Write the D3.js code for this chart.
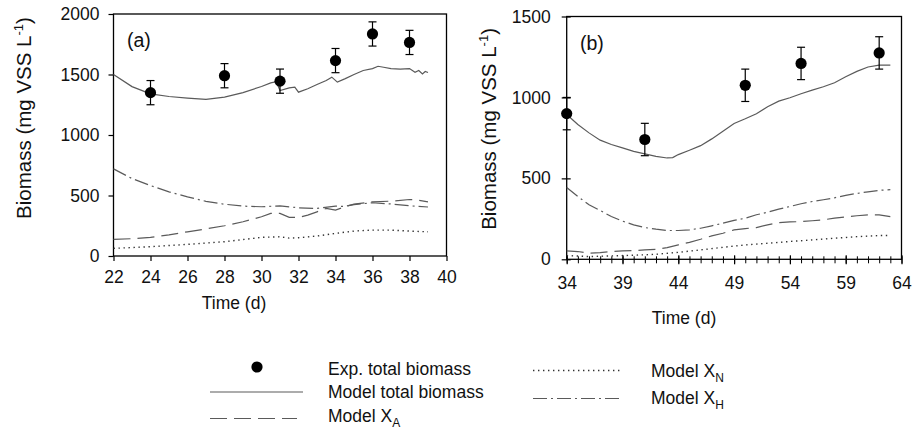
<!DOCTYPE html>
<html>
<head>
<meta charset="utf-8">
<script src="https://cdn.jsdelivr.net/npm/d3@7/dist/d3.min.js"></script>
<style>
  html, body { margin: 0; padding: 0; background: #fff; }
  svg { display: block; font-family: "Liberation Sans", Arial, sans-serif; }
</style>
</head>
<body>
<svg id="chart" width="912" height="430"></svg>
<script>
// ---- Panel (a): days 22–39 ----
const expDaysA  = [24, 28, 31, 34, 36, 38];
const expValsA  = [1350, 1490, 1445, 1615, 1835, 1765];
const expErrA   = [100, 100, 100, 100, 100, 100];

const totDaysA  = [22, 23, 24, 25, 26, 27, 28, 29, 30, 30.5, 30.8, 31, 31.5, 31.8, 32, 32.5, 33, 33.5, 33.8, 34.1, 34.5, 35, 35.5, 36, 36.3, 36.6, 37, 37.5, 38, 38.3, 38.5, 38.7, 38.85, 39];
const totValsA  = [1500, 1400, 1340, 1318, 1305, 1294, 1313, 1350, 1401, 1431, 1440, 1368, 1390, 1395, 1354, 1382, 1417, 1450, 1478, 1437, 1464, 1500, 1533, 1549, 1568, 1560, 1549, 1544, 1549, 1519, 1533, 1505, 1525, 1516];

const xhDaysA   = [22, 23, 24, 25, 26, 27, 28, 29, 30, 31, 32, 33, 34, 34.5, 35, 36, 37, 38, 39];
const xhValsA   = [720, 640, 582, 530, 489, 452, 428, 412, 407, 415, 398, 393, 412, 410, 425, 440, 430, 415, 405];

const xaDaysA   = [22, 23, 24, 25, 26, 27, 28, 29, 30, 30.5, 31, 31.5, 32, 32.5, 33, 33.5, 34, 34.5, 35, 36, 37, 38, 38.5, 39];
const xaValsA   = [137, 143, 154, 175, 200, 224, 250, 283, 324, 352, 352, 319, 319, 338, 365, 393, 379, 407, 428, 448, 453, 467, 461, 448];

const xnDaysA   = [22, 24, 26, 28, 30, 31, 31.5, 32, 33, 34, 35, 36, 37, 38, 39];
const xnValsA   = [63, 77, 96, 118, 154, 159, 148, 151, 165, 187, 206, 214, 214, 206, 200];

const xTicksA   = [22, 24, 26, 28, 30, 32, 34, 36, 38, 40];
const yTicksA   = [0, 500, 1000, 1500, 2000];

// ---- Panel (b): days 34–63 ----
const expDaysB  = [34, 41, 50, 55, 62];
const expValsB  = [900, 740, 1075, 1210, 1275];
const expErrB   = [100, 100, 100, 100, 100];

const totDaysB  = [34, 35, 36, 37, 38, 39, 40, 41, 42, 43, 43.5, 44, 45, 46, 47, 48, 49, 50, 51, 52, 53, 54, 55, 56, 57, 58, 59, 60, 61, 62, 63];
const totValsB  = [895, 833, 781, 736, 709, 688, 667, 651, 636, 626, 628, 647, 674, 702, 744, 791, 839, 868, 899, 942, 977, 998, 1023, 1045, 1066, 1091, 1128, 1161, 1188, 1200, 1200];

const xhDaysB   = [34, 35, 36, 37, 38, 39, 40, 41, 42, 43, 44, 45, 46, 47, 48, 49, 50, 51, 52, 53, 54, 55, 56, 57, 58, 59, 60, 61, 62, 63];
const xhValsB   = [444, 388, 337, 302, 264, 236, 213, 196, 186, 178, 178, 182, 192, 207, 223, 240, 254, 275, 291, 310, 326, 343, 357, 368, 380, 395, 407, 417, 426, 430];

const xaDaysB   = [34, 35, 36, 37, 38, 39, 40, 41, 42, 43, 44, 45, 46, 47, 48, 49, 50, 51, 52, 53, 54, 55, 56, 57, 58, 59, 60, 61, 62, 63];
const xaValsB   = [52, 48, 37, 41, 48, 52, 54, 58, 62, 72, 89, 105, 124, 145, 161, 182, 190, 196, 213, 227, 231, 233, 238, 244, 254, 262, 269, 275, 275, 264];

const xnDaysB   = [34, 36, 38, 40, 42, 44, 46, 48, 50, 52, 54, 56, 58, 60, 62, 63];
const xnValsB   = [23, 17, 21, 25, 31, 43, 58, 74, 89, 99, 110, 120, 130, 140, 147, 147];

const xTicksB   = [34, 39, 44, 49, 54, 59, 64];
const xMinorB   = d3.range(34, 65, 1);
const yTicksB   = [0, 500, 1000, 1500];

// Legend entries
const legendLabels = ["Exp. total biomass", "Model total biomass", "Model X", "Model X", "Model X"];
const legendSubs   = ["", "", "A", "N", "H"];

// ---- styles ----
const lineColor = "#5a5a5a";
const dashes = {
  total: null,
  xa: "17,7",
  xn: "1.4,3.6",
  xh: "14,4,2,4"
};

const svg = d3.select("#chart");
const font = 17.5;

function zip(xs, ys) { return xs.map((x, i) => [x, ys[i]]); }

function drawPanel(cfg) {
  const x = d3.scaleLinear().domain(cfg.xDomain).range([cfg.left, cfg.right]);
  const y = d3.scaleLinear().domain(cfg.yDomain).range([cfg.bottom, cfg.top]);
  const g = svg.append("g");

  // frame
  g.append("rect")
    .attr("x", cfg.left).attr("y", cfg.top)
    .attr("width", cfg.right - cfg.left).attr("height", cfg.bottom - cfg.top)
    .attr("fill", "none").attr("stroke", "#000").attr("stroke-width", 1.3);

  // minor x ticks
  if (cfg.xMinor) {
    const minor = g.append("g").attr("transform", `translate(0,${cfg.bottom})`)
      .call(d3.axisBottom(x).tickValues(cfg.xMinor).tickSize(4).tickFormat(""));
    minor.select(".domain").remove();
    minor.selectAll(".tick line").attr("y1", -3).attr("stroke-width", 1);
  }

  // x axis
  const xa = g.append("g").attr("transform", `translate(0,${cfg.bottom})`)
    .call(d3.axisBottom(x).tickValues(cfg.xTicks).tickSize(cfg.tickOut).tickPadding(cfg.xPad).tickFormat(d3.format("d")));
  xa.select(".domain").remove();
  xa.selectAll(".tick line").attr("y1", -cfg.tickIn).attr("stroke-width", 1.2);
  xa.selectAll("text").attr("font-size", font).attr("fill", "#111");

  // y axis
  const ya = g.append("g").attr("transform", `translate(${cfg.left},0)`)
    .call(d3.axisLeft(y).tickValues(cfg.yTicks).tickSize(cfg.tickOut).tickPadding(cfg.yPad).tickFormat(d3.format("d")));
  ya.select(".domain").remove();
  ya.selectAll(".tick line").attr("x1", cfg.tickIn).attr("stroke-width", 1.2);
  ya.selectAll("text").attr("font-size", font).attr("fill", "#111");

  // axis titles
  g.append("text")
    .attr("x", cfg.xTitleX).attr("y", cfg.xTitleY)
    .attr("text-anchor", "middle").attr("font-size", font).attr("fill", "#111")
    .text("Time (d)");

  const yt = g.append("text")
    .attr("transform", `translate(${cfg.yTitleX},${(cfg.top + cfg.bottom) / 2 + cfg.yTitleShift}) rotate(-90)`)
    .attr("text-anchor", "middle").attr("font-size", 20.5).attr("fill", "#111");
  yt.append("tspan").text("Biomass (mg VSS L");
  yt.append("tspan").attr("font-size", 13).attr("dy", -8).text("-1");
  yt.append("tspan").attr("dy", 8).text(")");

  // panel tag
  g.append("text")
    .attr("x", cfg.tagX).attr("y", cfg.tagY)
    .attr("font-size", 19.5).attr("fill", "#111").text(cfg.tag);

  // model lines
  const line = d3.line().x(d => x(d[0])).y(d => y(d[1]));
  const series = [
    [cfg.xn, dashes.xn],
    [cfg.xa, dashes.xa],
    [cfg.xh, dashes.xh],
    [cfg.total, dashes.total]
  ];
  series.forEach(([data, dash]) => {
    g.append("path")
      .datum(data)
      .attr("d", line)
      .attr("fill", "none")
      .attr("stroke", dash === dashes.xn ? "#333" : lineColor)
      .attr("stroke-width", dash === dashes.xn ? 1.4 : 1.2)
      .attr("stroke-dasharray", dash);
  });

  // experimental points with error bars
  const pts = cfg.exp;
  const eb = g.append("g").attr("stroke", "#000").attr("stroke-width", 1.2);
  pts.forEach(p => {
    const cx = x(p.d);
    eb.append("line").attr("x1", cx).attr("x2", cx).attr("y1", y(p.v - p.e)).attr("y2", y(p.v + p.e));
    eb.append("line").attr("x1", cx - 4).attr("x2", cx + 4).attr("y1", y(p.v - p.e)).attr("y2", y(p.v - p.e));
    eb.append("line").attr("x1", cx - 4).attr("x2", cx + 4).attr("y1", y(p.v + p.e)).attr("y2", y(p.v + p.e));
  });
  g.selectAll("circle.pt").data(pts).enter().append("circle")
    .attr("cx", p => x(p.d)).attr("cy", p => y(p.v)).attr("r", 5.6).attr("fill", "#000");
}

function expPoints(ds, vs, es) { return ds.map((d, i) => ({ d, v: vs[i], e: es[i] })); }

drawPanel({
  left: 113.5, right: 446.5, top: 14, bottom: 256,
  xDomain: [22, 40], yDomain: [0, 2000],
  xTicks: xTicksA, yTicks: yTicksA,
  tickOut: 5, tickIn: 0, xPad: 10, yPad: 9,
  xTitleX: 234, xTitleY: 309, yTitleX: 31, yTitleShift: -17,
  tag: "(a)", tagX: 127, tagY: 47,
  total: zip(totDaysA, totValsA), xh: zip(xhDaysA, xhValsA),
  xa: zip(xaDaysA, xaValsA), xn: zip(xnDaysA, xnValsA),
  exp: expPoints(expDaysA, expValsA, expErrA)
});

drawPanel({
  left: 566.7, right: 901.5, top: 16.5, bottom: 259.3,
  xDomain: [34, 64], yDomain: [0, 1500],
  xTicks: xTicksB, xMinor: xMinorB, yTicks: yTicksB,
  tickOut: 5, tickIn: 4, xPad: 12, yPad: 11,
  xTitleX: 684, xTitleY: 324, yTitleX: 496, yTitleShift: -9,
  tag: "(b)", tagX: 580, tagY: 50,
  total: zip(totDaysB, totValsB), xh: zip(xhDaysB, xhValsB),
  xa: zip(xaDaysB, xaValsB), xn: zip(xnDaysB, xnValsB),
  exp: expPoints(expDaysB, expValsB, expErrB)
});

// ---- legend ----
const lg = svg.append("g").attr("font-size", font).attr("fill", "#111");
const swatches = [
  { kind: "point", x1: 257, y: 367, tx: 328, ty: 375 },
  { kind: "line", dash: dashes.total, x1: 210, x2: 303, y: 392, tx: 328, ty: 398 },
  { kind: "line", dash: dashes.xa, x1: 210, x2: 297, y: 418.5, tx: 328, ty: 421.5 },
  { kind: "line", dash: dashes.xn, x1: 533, x2: 623, y: 370.5, tx: 651, ty: 376.5 },
  { kind: "line", dash: dashes.xh, x1: 533, x2: 623, y: 398.5, tx: 651, ty: 404 }
];
swatches.forEach((s, i) => {
  if (s.kind === "point") {
    lg.append("circle").attr("cx", s.x1).attr("cy", s.y).attr("r", 5.6).attr("fill", "#000");
  } else {
    lg.append("line").attr("x1", s.x1).attr("x2", s.x2).attr("y1", s.y).attr("y2", s.y)
      .attr("stroke", s.dash === dashes.xn ? "#333" : lineColor)
      .attr("stroke-width", s.dash === dashes.xn ? 1.4 : 1.2)
      .attr("stroke-dasharray", s.dash);
  }
  const t = lg.append("text").attr("x", s.tx).attr("y", s.ty);
  t.append("tspan").text(legendLabels[i]);
  if (legendSubs[i]) {
    t.append("tspan").attr("font-size", 12).attr("dy", 5).text(legendSubs[i]);
  }
});
</script>
</body>
</html>
